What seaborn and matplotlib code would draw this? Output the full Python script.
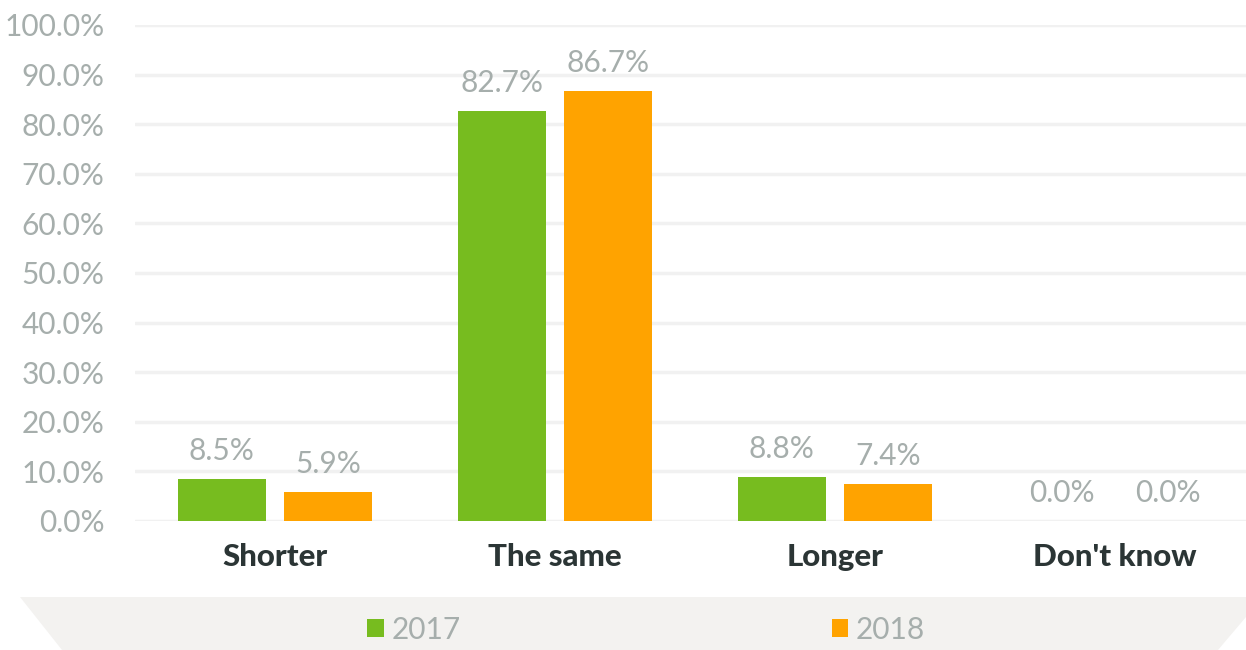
import matplotlib
matplotlib.use("Agg")
import matplotlib.pyplot as plt
from matplotlib.patches import Polygon
import seaborn as sns
import pandas as pd

# Survey answers and shares per year (%)
categories = ["Shorter", "The same", "Longer", "Don't know"]
years = ["2017", "2018"]
values_2017 = [8.5, 82.7, 8.8, 0.0]
values_2018 = [5.9, 86.7, 7.4, 0.0]
y_ticks = [0, 10, 20, 30, 40, 50, 60, 70, 80, 90, 100]

GREEN = "#77bc1f"
ORANGE = "#ffa300"
GREY_TEXT = "#a6aeac"
DARK_TEXT = "#2b3535"
GRID = "#f1f1f1"
BAND = "#f3f2f0"

df = pd.DataFrame({
    "answer": categories * 2,
    "year": [years[0]] * len(categories) + [years[1]] * len(categories),
    "share": values_2017 + values_2018,
})

sns.set_theme(style="white")
plt.rcParams["font.family"] = ["Lato", "DejaVu Sans"]

W, H = 1246, 650
fig = plt.figure(figsize=(W / 100, H / 100), dpi=100)
ax = fig.add_axes([135 / W, 1 - 521 / H, (1255 - 135) / W, (521 - 25) / H])

# Grey legend band with slanted ends
band = Polygon(
    [(20 / W, 1 - 597 / H), (1.0, 1 - 597 / H), (1.0, 1 - 617 / H),
     (1218 / W, 0.0), (62 / W, 0.0)],
    closed=True, transform=fig.transFigure, facecolor=BAND,
    edgecolor="none", zorder=0)
fig.patches.append(band)

sns.barplot(data=df, x="answer", y="share", hue="year", order=categories,
            hue_order=years, palette=[GREEN, ORANGE], width=0.76, gap=0.17,
            saturation=1, ax=ax, zorder=3, edgecolor="none")

ax.set_ylim(0, 100)
ax.set_xlim(-0.5, len(categories) - 0.5)
ax.set_yticks(y_ticks)
ax.set_yticklabels([f"{t:.1f}%" for t in y_ticks])
ax.yaxis.grid(True, color=GRID, linewidth=2.5, zorder=0)
ax.set_axisbelow(True)
for s in ax.spines.values():
    s.set_visible(False)
ax.set_xlabel("")
ax.set_ylabel("")
ax.tick_params(axis="y", length=0, pad=22, labelsize=21.5, labelcolor=GREY_TEXT)
ax.tick_params(axis="x", length=0, pad=16, labelsize=22.5, labelcolor=DARK_TEXT)
for lbl in ax.get_xticklabels():
    lbl.set_fontweight("black")

# Value labels above each bar
for container in ax.containers:
    ax.bar_label(container, labels=[f"{v:.1f}%" for v in container.datavalues],
                 padding=10, fontsize=21.5, color=GREY_TEXT)

handles, labels = ax.get_legend_handles_labels()
ax.get_legend().remove()
fig.legend(handles, labels, ncol=2, frameon=False, loc="center",
           bbox_to_anchor=(646 / W, 1 - 630 / H),
           handlelength=0.55, handleheight=0.55, handletextpad=0.25,
           columnspacing=12.43, labelcolor=GREY_TEXT,
           prop={"size": 21.5})

fig.savefig("out.png", dpi=100)
